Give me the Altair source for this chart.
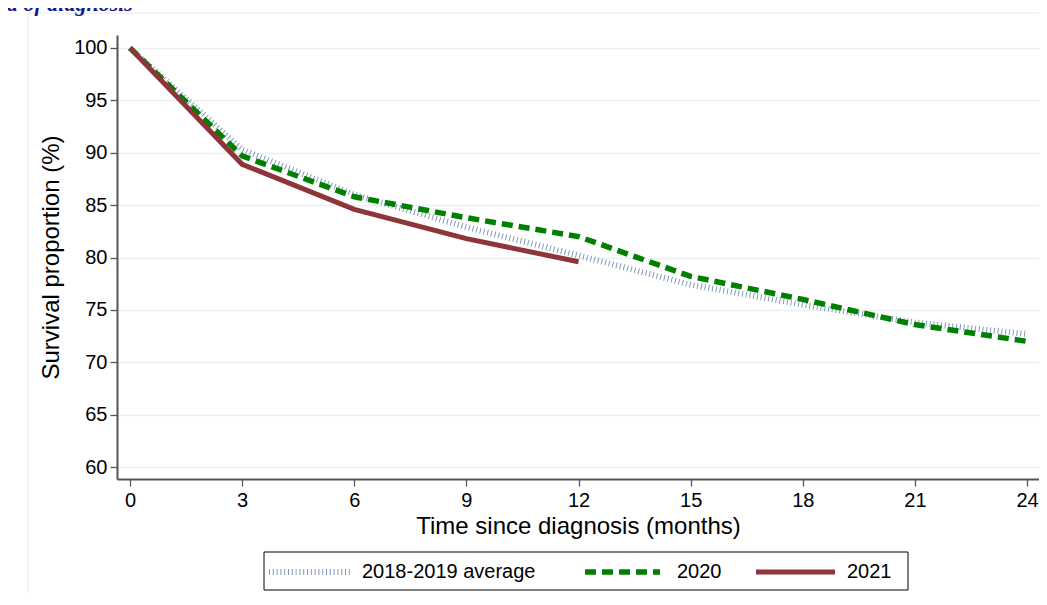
import altair as alt
import pandas as pd

months = [0, 3, 6, 9, 12, 15, 18, 21, 24]
avg_1819 = [100, 90.3, 86.0, 82.9, 80.2, 77.4, 75.5, 73.8, 72.7]
months_2020 = [0, 3, 6, 9, 12, 15, 18, 21, 24]
surv_2020 = [100, 89.7, 85.8, 83.8, 82.0, 78.2, 76.0, 73.6, 72.0]
months_2021 = [0, 3, 6, 9, 12]
surv_2021 = [100, 88.9, 84.6, 81.8, 79.6]

x_ticks = [0, 3, 6, 9, 12, 15, 18, 21, 24]
y_ticks = [60, 65, 70, 75, 80, 85, 90, 95, 100]
legend_labels = ["2018-2019 average", "2020", "2021"]

df_avg = pd.DataFrame({"month": months, "value": avg_1819})
df_2020 = pd.DataFrame({"month": months_2020, "value": surv_2020})
df_2021 = pd.DataFrame({"month": months_2021, "value": surv_2021})

FONT = "Liberation Sans"

x = alt.X("month:Q",
          scale=alt.Scale(domain=[-0.348, 24.32], nice=False, zero=False),
          axis=alt.Axis(values=x_ticks, title="Time since diagnosis (months)",
                        grid=False, tickSize=7, labelPadding=4, titlePadding=4))
y = alt.Y("value:Q",
          scale=alt.Scale(domain=[58.86, 101.24], nice=False, zero=False),
          axis=alt.Axis(values=y_ticks, title="Survival proportion (%)",
                        grid=True, tickSize=7, labelPadding=3, titlePadding=10))

line_avg = alt.Chart(df_avg).mark_line(color="#8299BC", strokeWidth=6, strokeDash=[1, 2.8]).encode(x=x, y=y)
line_2020 = alt.Chart(df_2020).mark_line(color="#008000", strokeWidth=5.5, strokeDash=[11, 6]).encode(x=x, y=y)
line_2021 = alt.Chart(df_2021).mark_line(color="#8E353A", strokeWidth=5).encode(x=x, y=y)

one = pd.DataFrame({"a": [0]})

frame_v = alt.Chart(one).mark_rule(color="#EAEAEA", strokeWidth=1).encode(
    x=alt.value(-89), y=alt.value(-22), y2=alt.value(620))
frame_h = alt.Chart(one).mark_rule(color="#EAEAEA", strokeWidth=1).encode(
    x=alt.value(-89), x2=alt.value(940), y=alt.value(-22))

title_txt = alt.Chart(one).mark_text(
    text="d of diagnosis", align="left", baseline="alphabetic",
    font="Liberation Serif", fontStyle="italic", fontWeight="bold",
    fontSize=22, color="#17178A").encode(x=alt.value(-110), y=alt.value(-24))

leg_box = alt.Chart(one).mark_rect(fill="white", stroke="black", strokeWidth=1).encode(
    x=alt.value(147), x2=alt.value(791), y=alt.value(517), y2=alt.value(555))
leg_avg = alt.Chart(one).mark_rule(color="#8299BC", strokeWidth=6, strokeDash=[1, 2.8]).encode(
    x=alt.value(152), x2=alt.value(235), y=alt.value(537))
leg_2020 = alt.Chart(one).mark_rule(color="#008000", strokeWidth=5.5, strokeDash=[11, 6]).encode(
    x=alt.value(468), x2=alt.value(543), y=alt.value(537))
leg_2021 = alt.Chart(one).mark_rule(color="#8E353A", strokeWidth=5).encode(
    x=alt.value(639), x2=alt.value(718), y=alt.value(537))

def leg_text(label, xpos):
    return alt.Chart(one).mark_text(text=label, align="left", baseline="middle",
                                    font=FONT, fontSize=20, color="black").encode(
        x=alt.value(xpos), y=alt.value(537))

chart = alt.layer(
    frame_v, frame_h, title_txt,
    line_avg, line_2020, line_2021,
    leg_box, leg_avg, leg_2020, leg_2021,
    leg_text(legend_labels[0], 245), leg_text(legend_labels[1], 560), leg_text(legend_labels[2], 730),
).properties(
    width=922, height=444,
    autosize=alt.AutoSizeParams(type="none"),
    padding={"left": 109, "top": 27, "right": 0, "bottom": 114},
    background="white",
).configure_view(stroke=None).configure_axis(
    labelFont=FONT, titleFont=FONT, labelFontSize=20, titleFontSize=24,
    labelColor="black", titleColor="black", titleFontWeight="normal",
    domainColor="#555555", domainWidth=2, tickColor="#555555", tickWidth=1.3,
    gridColor="#E8F0F1", gridWidth=1.5,
)

chart.save("out.html", embed_options={"renderer": "svg", "actions": False})
